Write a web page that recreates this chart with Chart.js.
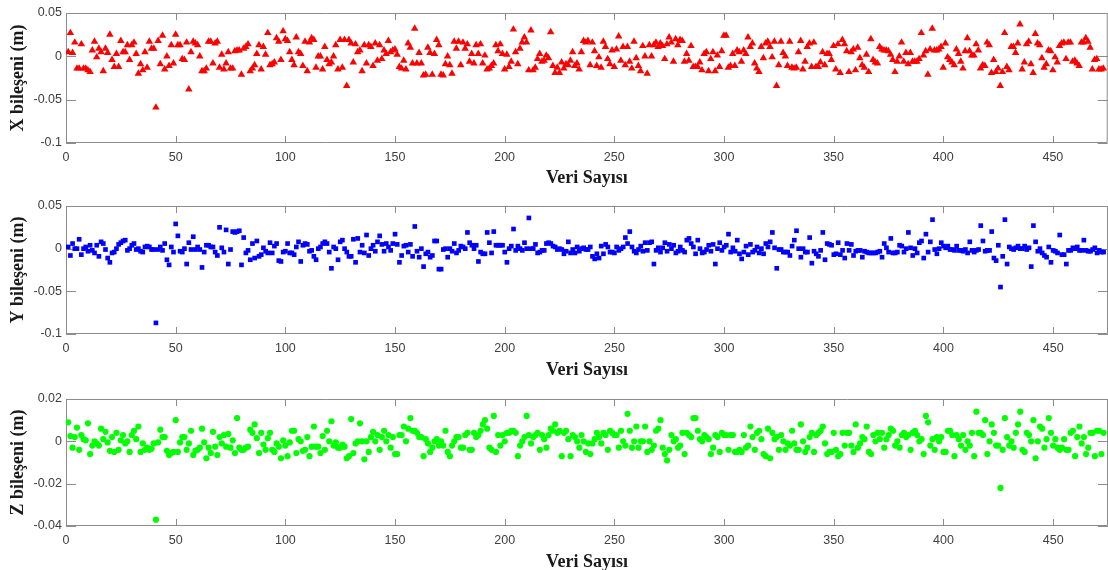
<!DOCTYPE html>
<html>
<head>
<meta charset="utf-8">
<script src="https://cdn.jsdelivr.net/npm/chart.js@4.4.1/dist/chart.umd.min.js"></script>
<style>
  html, body { margin: 0; padding: 0; background: #fff; overflow: hidden; width: 1108px; height: 570px; }
  .panel { position: absolute; left: 0; }
</style>
</head>
<body>
<div class="panel" style="top:0px"><canvas id="chartX" width="1112" height="200"></canvas></div>
<div class="panel" style="top:190px"><canvas id="chartY" width="1112" height="200"></canvas></div>
<div class="panel" style="top:380px"><canvas id="chartZ" width="1112" height="200"></canvas></div>
<script>
// values, sample index 1..N
const xBileseni = [
  0.005, 0.027, 0.004, 0.016, -0.014, -0.014, 0.014, -0.014, -0.014,
  -0.016, -0.018, 0.007, 0.017, -0.001, 0.009, 0.005, -0.017, 0.009, 0.004,
  0.025, -0.004, -0.012, 0.003, -0.012, 0.018, 0.005, 0.005, 0.013, -0.004,
  0.013, 0.016, 0.003, -0.020, -0.009, -0.016, 0.005, -0.013, 0.017, 0.009,
  0.009, -0.059, 0.018, -0.009, 0.024, -0.015, 0.000, -0.011, 0.013, -0.008,
  0.025, 0.013, 0.013, -0.003, -0.004, 0.016, -0.038, 0.005, 0.017, 0.015,
  0.013, 0.000, -0.017, -0.017, -0.014, 0.017, 0.017, -0.008, 0.015, 0.017,
  -0.013, 0.002, -0.015, -0.008, 0.005, -0.014, -0.014, 0.006, 0.007, 0.007,
  -0.021, 0.009, 0.011, 0.014, -0.017, -0.014, -0.010, 0.003, 0.013, -0.015,
  0.011, 0.002, 0.027, -0.010, -0.009, -0.007, 0.021, 0.017, -0.004, 0.029,
  0.020, 0.018, 0.005, -0.004, -0.010, 0.022, 0.005, 0.003, -0.011, 0.017,
  -0.017, 0.016, 0.021, 0.019, -0.013, 0.000, 0.000, -0.015, 0.011, -0.004,
  -0.009, -0.007, 0.000, 0.013, -0.015, 0.019, -0.013, 0.019, -0.034, 0.019,
  0.015, -0.007, 0.014, 0.005, 0.007, -0.017, 0.013, -0.008, 0.013, 0.011,
  -0.011, 0.015, -0.005,
  0.013, -0.003, 0.007, 0.003, 0.018, 0.005, 0.007,
  0.008, 0.002, -0.012, -0.014, -0.005, -0.015, 0.015, 0.010, -0.008, 0.032,
  -0.008, 0.004, -0.008, -0.022, -0.021, 0.010, 0.004, -0.021, 0.003, 0.019,
  0.013, -0.021, -0.022, -0.009, 0.000, -0.010, -0.020, 0.017, 0.009, 0.017,
  -0.010, 0.016, 0.009, 0.014, -0.006, 0.003, -0.008, 0.013, 0.003, 0.014,
  -0.008, 0.001, -0.015, -0.014, -0.011, -0.008, 0.013, 0.006, 0.014, 0.003,
  -0.015, 0.002, -0.012, -0.006, 0.031, 0.005, -0.009, 0.009, 0.016, 0.022,
  0.016, -0.016, 0.030, -0.016, -0.013, -0.003, 0.003, -0.006, -0.005, 0.001,
  -0.002, 0.028, -0.011, -0.019, -0.013, -0.019, -0.007, -0.014, -0.009, -0.010,
  -0.005, 0.005, -0.011, -0.008, -0.015, 0.005, 0.018, 0.016, 0.018, -0.010,
  0.016, 0.006, -0.011, -0.001, -0.013, 0.017, 0.011, -0.003, -0.009, 0.007,
  -0.012, 0.008, 0.023, -0.005, 0.011, -0.010, 0.011, -0.006, -0.014, 0.017,
  -0.002, -0.011, -0.017, 0.012, 0.000, -0.020, 0.013, 0.000, 0.013, 0.016,
  0.011, 0.015, 0.012, -0.003, 0.014, 0.022, 0.016, -0.006, 0.020, 0.013,
  0.019, 0.018, -0.006, 0.003, -0.005, 0.012, -0.012, -0.012, -0.012, -0.007,
  -0.016, 0.003, 0.005, -0.017, -0.003, 0.005, -0.017, 0.001, -0.012, 0.006,
  0.024, 0.024, -0.013, -0.011,
  0.003, -0.011, 0.007, 0.005, -0.006, 0.007, 0.003, 0.022, 0.011, 0.015,
  -0.008, -0.014, -0.018, 0.011, -0.002, 0.015, 0.017, 0.011, -0.001, 0.017,
  -0.034, -0.010, 0.017, 0.004, 0.000, -0.011, 0.017, -0.013, -0.014, -0.013,
  0.005, 0.018, -0.015, -0.006, 0.011, 0.015, -0.012, 0.016, -0.012, -0.012,
  -0.007, 0.005, -0.010, 0.003, 0.003, -0.004, 0.012, -0.015, 0.014, -0.019,
  0.019, 0.014, 0.006, -0.018, 0.005, 0.008, -0.016, 0.010, -0.002, -0.010,
  -0.013, 0.002, -0.018, 0.020, -0.004, -0.007, -0.008, 0.011, 0.008, 0.007,
  0.007, 0.006, 0.002, -0.004, -0.018, -0.006, 0.000, 0.016, -0.006, 0.004,
  -0.009, 0.004, -0.006, -0.006, -0.006, -0.003, 0.027, 0.001, 0.006, -0.021,
  0.008, 0.032, 0.007, 0.007, 0.008, 0.011, -0.013, 0.015, -0.001, -0.004,
  -0.007, -0.010, 0.008, 0.003, -0.006, -0.014, 0.006, 0.021, 0.006, 0.001,
  0.001, 0.014, 0.007, -0.014, -0.010, -0.011, 0.016, 0.013, -0.019, -0.004,
  -0.018, -0.014, -0.034, -0.018, 0.027, -0.012, -0.016, 0.011, 0.011, 0.004,
  0.015, 0.037, -0.015, -0.007, 0.014, 0.017, -0.009, -0.019, 0.026, 0.015,
  0.013, -0.002, -0.013, -0.009, 0.007, 0.006, -0.016, -0.001, -0.007, 0.012,
  0.015, 0.016, -0.003, 0.016, 0.016, -0.006, -0.005, -0.008, -0.011, 0.016,
  0.016, 0.021, 0.017, 0.010, -0.015, -0.004, -0.003, -0.015, -0.015, -0.014
];

const yBileseni = [
  0.002, -0.008, 0.006, 0.000, 0.000, 0.011, -0.007, 0.000, 0.002,
  -0.003, 0.004, -0.002, -0.005, 0.004, -0.009, 0.008, 0.006, -0.001, -0.011,
  -0.016, -0.005, -0.004, 0.000, 0.005, 0.007, 0.009, 0.010, -0.002, 0.000,
  0.004, 0.006, -0.001, 0.000, -0.003, -0.004, 0.002, 0.003, 0.002, -0.001,
  -0.001, -0.087, -0.001, 0.002, -0.002, 0.006, -0.013, -0.019, 0.002, -0.004,
  0.029, 0.015, -0.003, -0.004, 0.000, -0.018, 0.007, -0.001, 0.014, -0.001,
  0.002, -0.001, -0.022, -0.004, 0.004, 0.004, 0.002, 0.002, -0.004, -0.008,
  0.025, 0.001, -0.004, 0.022, -0.018, -0.001, 0.020, 0.019, 0.020, 0.021,
  -0.019, 0.013, -0.005, -0.002, -0.013, 0.006, -0.011, 0.009, -0.009, -0.007,
  0.001, -0.003, -0.005, 0.007, -0.005, 0.003, 0.006, -0.014, -0.015, -0.004,
  -0.003, 0.006, -0.005, -0.005, -0.007, 0.002, 0.008, -0.015, 0.004, 0.006,
  0.005, -0.003, -0.002, -0.009, -0.013, 0.000, 0.002, 0.006, 0.008, 0.006,
  -0.004, -0.023, 0.002, 0.000, -0.013, 0.008, 0.010, 0.000, -0.004, -0.009,
  -0.009, 0.011, -0.016, 0.012, -0.004, 0.004, -0.005, 0.016,
  -0.008, 0.000, 0.004, -0.003, 0.008, 0.015, 0.005, -0.003, 0.006, 0.002, -0.002, 0.006,
  0.017, 0.005, -0.016, -0.008, 0.003, 0.004, -0.004, 0.005, -0.009, 0.026,
  -0.003, -0.010, 0.000, -0.021, -0.006, -0.004, -0.010, -0.008, 0.009, 0.009,
  -0.024, -0.024, -0.001, 0.000, -0.010, 0.000, -0.003, 0.006, -0.005, -0.002,
  0.003, 0.002, 0.000, 0.019, 0.007, 0.004, 0.000, 0.004, -0.015, -0.004,
  -0.006, -0.006, 0.019, 0.007, -0.005, 0.020, 0.004, 0.004, 0.004, 0.004,
  -0.004, -0.016, 0.000, 0.003, 0.023, -0.002, 0.003, 0.000, -0.002, 0.007,
  0.000, 0.036, 0.000, 0.000, 0.005, -0.005, -0.004, -0.002, -0.002, 0.006,
  0.007, 0.006, 0.003, 0.002, -0.001, 0.000, -0.001, -0.006, -0.003, 0.008,
  -0.005, -0.001, -0.005, 0.002, -0.003, 0.000, 0.001, -0.001, -0.001, 0.002,
  -0.009, -0.012, -0.006, -0.011, 0.003, -0.006, 0.005, 0.002, -0.004, -0.004,
  -0.005, 0.002, -0.002, 0.000, 0.002, 0.013, 0.006, 0.020, 0.002, -0.003,
  -0.005, -0.001, 0.003, -0.003, 0.007, -0.002, 0.007, 0.008, -0.018, -0.002,
  0.001, -0.004, 0.001, 0.007, -0.003, 0.005, 0.000, 0.004, -0.005, -0.003,
  0.002, -0.002, -0.004, 0.010, 0.012, 0.006, 0.002, -0.006, 0.010, 0.000,
  -0.005, -0.004, -0.001, 0.004, -0.003, 0.005, -0.018, 0.000, 0.007, -0.002,
  0.002, 0.004, 0.017, -0.004,
  0.001, -0.003, 0.010, -0.006, -0.012, -0.004, 0.003, -0.007, 0.005, -0.004,
  -0.002, 0.002, -0.005, 0.000, -0.006, 0.006, 0.002, 0.008, 0.019, 0.001,
  -0.023, -0.001, -0.001, -0.004, -0.004, -0.004, -0.008, 0.003, 0.010, 0.021,
  0.000, -0.010, 0.000, -0.004, -0.004, 0.013, -0.017, -0.003, -0.006, -0.009,
  -0.002, 0.019, -0.013, 0.006, 0.005, 0.004, -0.007, -0.006, 0.007, -0.007,
  -0.002, -0.011, 0.006, -0.002, 0.005, -0.008, -0.003, -0.002, -0.002, -0.010,
  -0.003, -0.004, -0.005, -0.005, -0.005, -0.005, -0.004, -0.003, -0.010, 0.006,
  0.001, -0.004, 0.012, -0.005, -0.005, -0.004, 0.004, 0.003, -0.004, 0.000,
  0.019, 0.001, -0.008, 0.000, -0.005, 0.007, 0.009, -0.011, 0.017, -0.004,
  0.008, 0.034, -0.001, -0.006, 0.000, 0.007, 0.003, 0.001, 0.003, -0.001,
  -0.001, -0.002, 0.003, -0.002, -0.002, -0.003, -0.001, -0.005, 0.008, -0.002,
  -0.004, -0.002, -0.001, 0.027, 0.009, -0.003, -0.002, -0.002, 0.020, -0.011,
  -0.014, 0.004, -0.045, -0.009, 0.034, -0.018, 0.002, 0.000, -0.001, 0.001,
  0.003, 0.000, 0.000, 0.003, -0.001, 0.001, -0.021, 0.027, 0.008, -0.003,
  0.000, -0.005, -0.008, -0.010, 0.002, -0.016, -0.002, -0.003, -0.005, 0.016,
  -0.007, -0.007, -0.018, -0.002, -0.002, 0.001, 0.000, 0.002, -0.002, -0.002,
  0.010, -0.002, -0.003, -0.003, -0.001, 0.001, -0.005, -0.002, -0.004, -0.004
];

const zBileseni = [
  0.009, 0.0025, -0.003, 0.002, 0.0065, -0.004, 0.003, 0.001, 0.0005,
  0.0085, -0.006, -0.002, 0.000, -0.001, -0.002, 0.006, 0.001, 0.0045, -0.0005,
  -0.0045, 0.002, -0.005, 0.004, -0.004, 0.0005, 0.003, -0.001, 0.000, -0.005,
  0.003, 0.005, 0.001, 0.007, -0.005, -0.001, -0.004, -0.003, -0.004, -0.0035,
  -0.001, -0.037, -0.0005, 0.0055, 0.002, 0.002, -0.0045, -0.0065, -0.0055, -0.005,
  0.010, -0.005, -0.0005, 0.002, 0.002, -0.004, -0.001, 0.005, -0.0065, -0.0045,
  -0.004, -0.003, 0.006, -0.0005, -0.008, -0.003, -0.0055, 0.0045, -0.0025, -0.0065,
  0.002, -0.001, 0.003, -0.0025, 0.0035, -0.003, 0.0005, -0.0055, 0.011, -0.003,
  -0.004, -0.004, -0.003, -0.0025, 0.0055, 0.004, 0.008, 0.0015, -0.0055, 0.004,
  -0.0015, -0.004, 0.0015, 0.004, -0.004, -0.005, -0.001, -0.0025, -0.008, 0.0005,
  -0.002, -0.007, -0.0005, 0.005, 0.005, -0.0055, 0.001, 0.000, -0.0045, -0.004,
  0.002, -0.007, -0.0025, 0.007, -0.0025, -0.0025, -0.0055, 0.0025, -0.004, 0.005,
  0.000, 0.0095, -0.002, -0.0005, -0.003, -0.003, -0.0015, -0.0025, -0.008, -0.007,
  0.0105, -0.0055, -0.001, 0.000, 0.0085, 0.000, -0.0085, 0.000, -0.005, 0.002,
  0.0045, 0.000,
  0.003, -0.004, 0.002, 0.005, 0.000, 0.003, -0.003, 0.002, -0.006, -0.006,
  0.003, 0.003, 0.007, 0.000, 0.006, 0.011, 0.005, 0.005, 0.004, 0.002,
  0.002, -0.007, 0.001, -0.001, -0.005, -0.003, 0.000, 0.001, -0.002, 0.000,
  -0.002, 0.005, -0.005, -0.007, -0.002, 0.000, 0.002, 0.002, -0.003, -0.003,
  0.003, 0.004, -0.004, -0.004, 0.004, 0.002, 0.003, 0.005, 0.008, 0.010,
  0.006, -0.003, -0.004, 0.012, -0.005, 0.003, -0.002, 0.003, 0.000, 0.004,
  0.004, 0.005, 0.005, 0.004, -0.007, -0.002, 0.000, 0.002, 0.012, 0.003,
  -0.001, 0.002, 0.003, 0.004, -0.004, 0.003, 0.001, -0.003, 0.003, 0.006,
  0.005, 0.008, 0.004, 0.005, -0.007, 0.004, 0.005, 0.001, -0.007, 0.003,
  0.002, 0.000, -0.003, 0.003, 0.000, -0.005, -0.001, -0.006, -0.001, 0.001,
  0.004, 0.002, -0.001, 0.004, 0.003, -0.004, 0.005, 0.004, 0.003, 0.003,
  -0.003, 0.005, 0.000, -0.002, 0.013, 0.005, -0.003, 0.000, 0.007, -0.003,
  0.000, 0.000, 0.007, -0.005, 0.000, -0.004, -0.002, 0.005, 0.006, 0.010,
  -0.003, -0.006, -0.009, -0.004, 0.003, 0.000, 0.001, -0.003, -0.002, 0.004,
  -0.006, 0.004, 0.003, 0.002, 0.011, 0.011, 0.005, 0.001, 0.000, 0.003,
  0.002, 0.001, -0.006, -0.003, 0.003, 0.002, -0.005, 0.004, 0.003, 0.003,
  -0.004, 0.003,
  0.003, -0.005, -0.005, -0.004, -0.005, 0.003, -0.003, -0.002, 0.007, 0.002,
  -0.004, 0.004, 0.005, 0.001, -0.006, -0.007, 0.006, -0.008, 0.004, 0.001,
  0.002, -0.004, 0.003, 0.000, -0.004, -0.001, -0.002, 0.005, -0.001, -0.004,
  -0.004, 0.008, 0.000, -0.005, -0.003, 0.002, 0.004, -0.005, 0.003, 0.004,
  0.005, 0.007, -0.001, -0.006, -0.005, -0.005, 0.004, -0.004, -0.007, -0.006,
  0.004, -0.002, 0.004, 0.004, -0.002, -0.005, 0.008, -0.003, -0.001, 0.002,
  0.001, 0.007, -0.005, -0.006, 0.003, 0.000, 0.004, 0.001, 0.004, -0.003,
  0.001, 0.003, 0.006, 0.005, -0.002, 0.000, -0.003, 0.003, 0.004, 0.002,
  0.003, -0.004, 0.004, 0.005, 0.003, 0.000, 0.001, -0.006, 0.012, 0.009,
  -0.002, 0.001, -0.004, 0.002, 0.000, 0.002, -0.005, -0.005, 0.005, 0.005,
  0.003, -0.007, 0.003, 0.001, -0.002, 0.003, -0.004, 0.000, -0.002, 0.004,
  -0.007, 0.014, 0.004, 0.004, 0.003, 0.010, -0.006, 0.000, 0.008, 0.004,
  -0.002, -0.002, -0.022, -0.004, 0.011, 0.002, -0.002, 0.000, -0.003, 0.004,
  0.008, 0.014, -0.004, -0.005, 0.004, 0.003, 0.000, 0.010, -0.008, 0.000,
  0.007, 0.006, -0.003, 0.001, 0.011, 0.004, -0.002, 0.001, -0.003, -0.004,
  -0.003, 0.001, -0.004, -0.004, 0.004, 0.005, -0.007, 0.002, 0.007, -0.001,
  0.002, -0.006, -0.003, 0.004, 0.004, -0.007, 0.005, 0.005, -0.006, 0.004
];

const xTicks = [0, 50, 100, 150, 200, 250, 300, 350, 400, 450];
const yTicksXY = [-0.1, -0.05, 0, 0.05];
const yTicksZ = [-0.04, -0.02, 0, 0.02];

const tickFont = { family: "'Liberation Sans', Arial, sans-serif", size: 12.5 };
const titleFont = { family: "'Liberation Serif', 'Times New Roman', serif", size: 18, weight: 'bold' };

// MATLAB-like box with inward ticks
const matlabAxes = {
  id: 'matlabAxes',
  beforeDatasetsDraw(chart) {
    const { ctx, chartArea: a, scales: { x, y } } = chart;
    ctx.save();
    ctx.strokeStyle = '#8c8c8c';
    ctx.lineWidth = 1;
    ctx.beginPath();
    ctx.rect(a.left + 0.5, a.top + 0.5, a.right - a.left - 1, a.bottom - a.top - 1);
    x.ticks.forEach(t => {
      const px = Math.round(x.getPixelForValue(t.value)) + 0.5;
      ctx.moveTo(px, a.bottom); ctx.lineTo(px, a.bottom - 7);
      ctx.moveTo(px, a.top); ctx.lineTo(px, a.top + 7);
    });
    y.ticks.forEach(t => {
      const py = Math.round(y.getPixelForValue(t.value)) + 0.5;
      ctx.moveTo(a.left, py); ctx.lineTo(a.left + 10, py);
      ctx.moveTo(a.right, py); ctx.lineTo(a.right - 10, py);
    });
    ctx.stroke();
    ctx.restore();
  }
};

function makePanel(id, values, opt) {
  new Chart(document.getElementById(id), {
    type: 'scatter',
    data: {
      datasets: [{
        data: values.map((v, i) => ({ x: i + 1, y: v })),
        pointStyle: opt.style,
        pointRadius: opt.radius,
        backgroundColor: opt.color,
        borderColor: opt.color,
        borderWidth: 0
      }]
    },
    options: {
      responsive: false,
      animation: false,
      devicePixelRatio: 1,
      layout: { padding: { top: opt.top, right: 1, left: 0, bottom: 0 } },
      plugins: { legend: { display: false }, tooltip: { enabled: false } },
      scales: {
        x: {
          type: 'linear', min: 0, max: 475,
          grid: { display: false, drawTicks: false },
          border: { display: false },
          afterBuildTicks: s => { s.ticks = xTicks.map(v => ({ value: v })); },
          afterFit: s => { s.height = opt.xHeight; },
          ticks: { padding: 7, font: tickFont, color: '#404040', maxRotation: 0, autoSkip: false },
          title: { display: true, text: 'Veri Sayısı', font: titleFont, color: '#1a1a1a', padding: { top: 0, bottom: opt.titlePad } }
        },
        y: {
          min: opt.yTicks[0], max: opt.yTicks[opt.yTicks.length - 1],
          grid: { display: false, drawTicks: false },
          border: { display: false },
          afterBuildTicks: s => { s.ticks = opt.yTicks.map(v => ({ value: v })); },
          afterFit: s => { s.width = 66; },
          ticks: { padding: 4, font: tickFont, color: '#404040', callback: v => String(v) },
          title: { display: true, text: opt.label, font: titleFont, color: '#1a1a1a', padding: { top: 8, bottom: 0 } }
        }
      }
    },
    plugins: [matlabAxes]
  });
}

makePanel('chartX', xBileseni, { style: 'triangle', radius: 4.3, color: '#ff0000', top: 13, xHeight: 57, titlePad: 11.2, yTicks: yTicksXY, label: 'X bileşeni (m)' });
makePanel('chartY', yBileseni, { style: 'rect', radius: 3.3, color: '#0000ff', top: 16, xHeight: 56, titlePad: 9.2, yTicks: yTicksXY, label: 'Y bileşeni (m)' });
makePanel('chartZ', zBileseni, { style: 'circle', radius: 3.1, color: '#00ff00', top: 19, xHeight: 54, titlePad: 7.2, yTicks: yTicksZ, label: 'Z bileşeni (m)' });
</script>
</body>
</html>
